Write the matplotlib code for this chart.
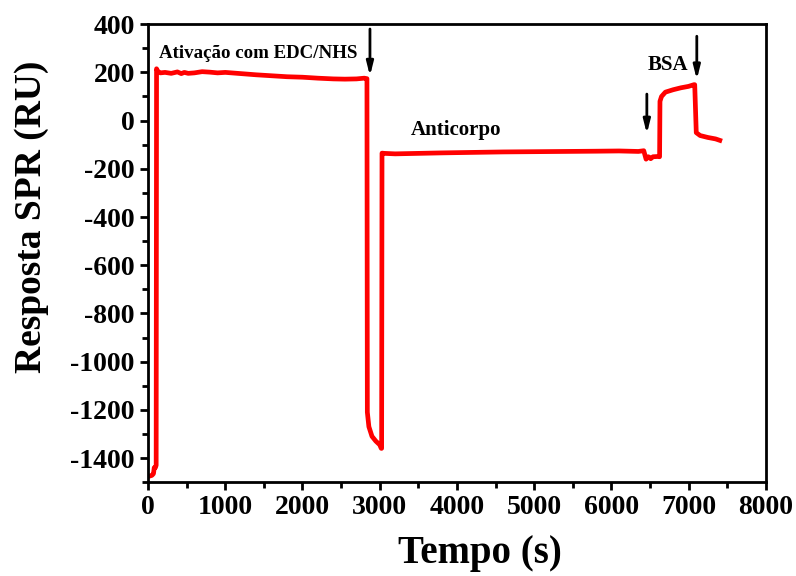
import matplotlib.pyplot as plt
from matplotlib.ticker import MultipleLocator

plt.rcParams["font.family"] = ["Liberation Serif", "DejaVu Serif"]
plt.rcParams["font.weight"] = "bold"
plt.rcParams["axes.unicode_minus"] = False

# sensorgram: time (s) and SPR response (RU)
tempo = [20, 50, 70, 80, 95, 105, 110, 125, 160, 220, 300, 380, 430, 470, 520, 600,
         700, 800, 900, 1000, 1200, 1400, 1600, 1800, 2000, 2200, 2400, 2550, 2700,
         2800, 2835, 2840, 2860, 2900, 2950, 3000, 3020, 3025, 3030, 3060, 3200,
         3500, 3800, 4200, 4600, 5000, 5400, 5800, 6100, 6350, 6420, 6450, 6480,
         6510, 6540, 6600, 6625, 6630, 6650, 6700, 6800, 6900, 7000, 7060, 7070,
         7080, 7100, 7150, 7250, 7350, 7405]
resposta = [-1475, -1472, -1465, -1440, -1440, -1430, 215, 205, 198, 200, 196, 202,
            195, 200, 196, 198, 203, 201, 198, 200, 195, 190, 186, 182, 180, 176,
            173, 172, 173, 176, 174, -1210, -1270, -1310, -1330, -1345, -1360,
            -1360, -135, -136, -138, -136, -134, -132, -130, -129, -128, -127,
            -126, -128, -125, -160, -150, -158, -150, -149, -150, 80, 100, 118,
            128, 136, 142, 148, 149, 149, -50, -62, -70, -76, -82]

# markers: (time, arrow top, arrow tip)
seta_t = [2874, 6460, 7107]
seta_topo = [380, 110, 350]
seta_ponta = [185, -55, 170]

fig = plt.figure(figsize=(7.96, 5.76), dpi=100)
ax = fig.add_axes([0.186, 0.163, 0.776, 0.795])

ax.plot(tempo, resposta, color="#ff0000", linewidth=3.4, solid_joinstyle="round")

for t, y0, y1 in zip(seta_t, seta_topo, seta_ponta):
    ax.annotate("", xy=(t, y1), xytext=(t, y0),
                arrowprops=dict(arrowstyle="-|>,head_length=0.8,head_width=0.2",
                                color="black", lw=2, shrinkA=0, shrinkB=0))

ax.text(140, 278, "Ativação com EDC/NHS", fontsize=13.6, fontweight="bold", va="center")
ax.text(3400, -37, "Anticorpo", fontsize=15, fontweight="bold", va="center")
ax.text(6470, 232, "BSA", fontsize=15, fontweight="bold", va="center")

ax.set_xlim(0, 8000)
ax.set_ylim(-1500, 400)
ax.xaxis.set_major_locator(MultipleLocator(1000))
ax.xaxis.set_minor_locator(MultipleLocator(500))
ax.yaxis.set_major_locator(MultipleLocator(200))
ax.yaxis.set_minor_locator(MultipleLocator(100))
ax.tick_params(which="major", length=6, width=2, direction="out", labelsize=20)
ax.tick_params(which="minor", length=4, width=2, direction="out")
for lbl in ax.get_xticklabels() + ax.get_yticklabels():
    lbl.set_fontweight("bold")
for sp in ax.spines.values():
    sp.set_linewidth(2)

ax.set_xlabel("Tempo (s)", fontsize=28, fontweight="bold")
ax.set_ylabel("Resposta SPR (RU)", fontsize=27, fontweight="bold")
ax.xaxis.set_label_coords(0.537, -0.155)
ax.yaxis.set_label_coords(-0.188, 0.579)
ax.xaxis.label.set_va("center")
ax.yaxis.label.set_va("center")

fig.savefig("out.png", dpi=100)
